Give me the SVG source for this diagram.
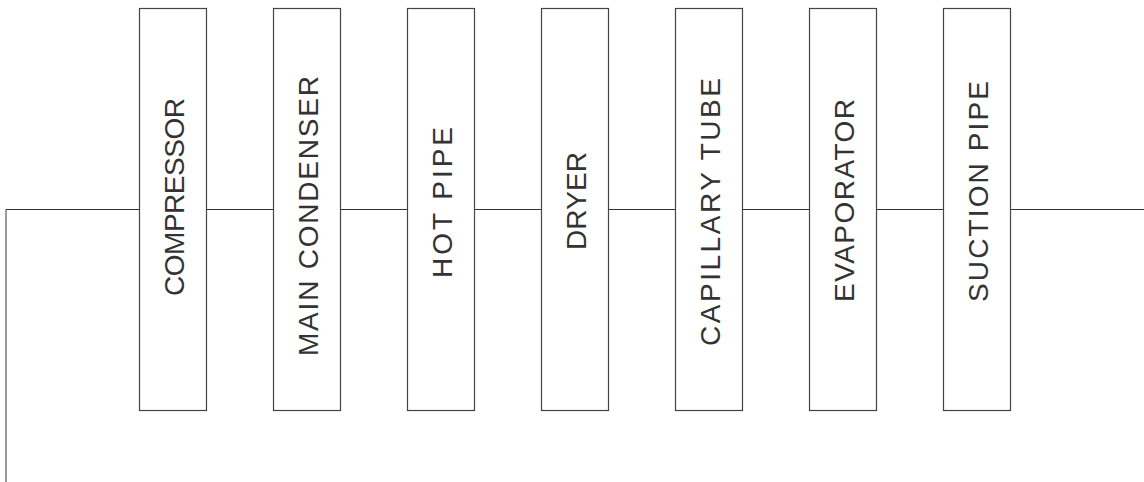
<svg xmlns="http://www.w3.org/2000/svg" width="1144" height="482" viewBox="0 0 1144 482">
<style>
.box{fill:#fff;stroke:#444;stroke-width:1.2}
.lbl{font-family:"Liberation Sans",Arial,sans-serif;font-size:28px;fill:#333;text-anchor:middle}
.wire{fill:none;stroke:#333;stroke-width:1}
</style>
<rect width="1144" height="482" fill="#fff"/>
<g id="connectors">
<path class="wire" d="M6,482 V209.5 H139.5 M206.5,209.5 H273.5 M340.5,209.5 H407.5 M474.5,209.5 H541.5 M608.5,209.5 H675.5 M742.5,209.5 H809.5 M876.5,209.5 H943.5 M1010.5,209.5 H1144"/>
</g>
<g id="compressor">
<rect class="box" x="139.5" y="8.5" width="67" height="402"/>
<text class="lbl" transform="translate(184,197) rotate(-90)" textLength="198" lengthAdjust="spacing">COMPRESSOR</text>
</g>
<g id="main-condenser">
<rect class="box" x="273.5" y="8.5" width="67" height="402"/>
<text class="lbl" transform="translate(318,216) rotate(-90)" textLength="280" lengthAdjust="spacing">MAIN CONDENSER</text>
</g>
<g id="hot-pipe">
<rect class="box" x="407.5" y="8.5" width="67" height="402"/>
<text class="lbl" transform="translate(452,202.5) rotate(-90)" textLength="151" lengthAdjust="spacing">HOT PIPE</text>
</g>
<g id="dryer">
<rect class="box" x="541.5" y="8.5" width="67" height="402"/>
<text class="lbl" transform="translate(586,201) rotate(-90)" textLength="98" lengthAdjust="spacing">DRYER</text>
</g>
<g id="capillary-tube">
<rect class="box" x="675.5" y="8.5" width="67" height="402"/>
<text class="lbl" transform="translate(720,212) rotate(-90)" textLength="268" lengthAdjust="spacing">CAPILLARY TUBE</text>
</g>
<g id="evaporator">
<rect class="box" x="809.5" y="8.5" width="67" height="402"/>
<text class="lbl" transform="translate(854,200.5) rotate(-90)" textLength="203" lengthAdjust="spacing">EVAPORATOR</text>
</g>
<g id="suction-pipe">
<rect class="box" x="943.5" y="8.5" width="67" height="402"/>
<text class="lbl" transform="translate(988,191.5) rotate(-90)" textLength="221" lengthAdjust="spacing">SUCTION PIPE</text>
</g>
</svg>
